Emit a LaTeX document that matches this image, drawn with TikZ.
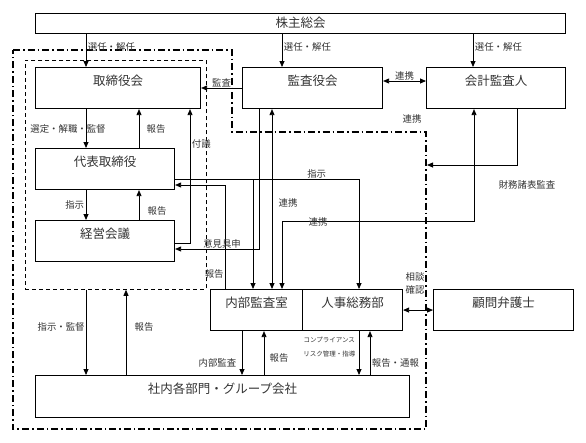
\documentclass[tikz,border=0pt]{standalone}
\usepackage{fontspec}
\setmainfont{Noto Sans CJK JP}
\usetikzlibrary{arrows.meta}
\begin{document}
\begin{tikzpicture}[x=1pt,y=-1pt,font=\fontsize{9.4}{10}\selectfont,text=black!80]
        \tikzstyle{box}=[draw,line width=1.1pt,anchor=north west,inner xsep=0pt,inner ysep=6pt,text height=12pt,text depth=17pt,font=\fontsize{12.5}{13}\selectfont]
        \tikzstyle{arr}=[line width=0.8pt,-{Triangle[length=6pt,width=5pt]}]
        \tikzstyle{both}=[line width=0.8pt,{Triangle[length=6pt,width=5pt]}-{Triangle[length=6pt,width=5pt]}]
        \tikzstyle{lbl}=[inner sep=1.5pt]
        \useasboundingbox (0,0) rectangle (586,442);
        \draw[line width=1.6pt,dash pattern=on 7pt off 3pt on 1.5pt off 3pt]
            (13,50) -- (232,50) -- (232,132) -- (426,132) -- (426,429) -- (13,429) -- cycle;
        \node[draw,line width=0.8pt,dash pattern=on 4pt off 3pt,anchor=north west,
            minimum width=181pt,minimum height=229pt,inner sep=0pt] (grp) at (25,60) {};
        \node[box,minimum width=530pt,text height=10pt,text depth=2pt,inner ysep=4pt] (kabu) at (35,13) {株主総会};
        \node[box,minimum width=165pt] (tori) at (35,67) {取締役会};
        \node[box,minimum width=140pt] (kansa) at (242,67) {監査役会};
        \node[box,minimum width=139pt] (kaikei) at (426,67) {会計監査人};
        \node[box,minimum width=139pt] (daihyo) at (35,148) {代表取締役};
        \node[box,minimum width=139pt] (keiei) at (35,220) {経営会議};
        \node[box,minimum width=92pt] (naibu) at (210,289) {内部監査室};
        \node[box,minimum width=100pt] (jinji) at (302,289) {人事総務部};
        \node[box,minimum width=140pt] (komon) at (433,289) {顧問弁護士};
        \node[box,minimum width=374pt,text depth=18pt] (shanai) at (35,375) {社内各部門・グループ会社};
        \coordinate (shiji) at (253,179);
        \coordinate (zaimu) at (427,165);
        \draw[arr] (86,0 |- kabu.south) -- (86,0 |- tori.north) node[pos=0.38,right,lbl] {選任・解任};
        \draw[arr] (282,0 |- kabu.south) -- (282,0 |- kansa.north) node[pos=0.38,right,lbl] {選任・解任};
        \draw[arr] (473,0 |- kabu.south) -- (473,0 |- kaikei.north) node[pos=0.38,right,lbl] {選任・解任};
        \draw[arr] (kansa.west |- 0,88) -- (tori.east |- 0,88) node[midway,above,inner sep=0.5pt] {監査};
        \draw[both] (kansa.east |- 0,81) -- (kaikei.west |- 0,81) node[midway,above,inner sep=0pt] {連携};
        \node (renkei) at (412,119) {連携};
        \draw[arr] (86,0 |- tori.south) -- (86,0 |- daihyo.north) node[midway,xshift=-18pt] {選定・解職・監督};
        \draw[arr] (139,0 |- daihyo.north) -- (139,0 |- tori.south) node[midway,right,xshift=4pt] {報告};
        \draw[arr] (keiei.east |- 0,243) -| (190,0 |- tori.south) node[pos=0.87,right,lbl] {付議};
        \draw[arr] (86,0 |- daihyo.south) -- (86,0 |- keiei.north) node[midway,left,lbl] {指示};
        \draw[arr] (139,0 |- keiei.north) -- (139,0 |- daihyo.south) node[pos=0.3,right,xshift=5pt] {報告};
        \draw[arr] (daihyo.east |- shiji) -| (359,0 |- jinji.north) node[pos=0.385,above,inner sep=0.5pt] {指示};
        \draw[arr] (shiji) -- (shiji |- naibu.north);
        \draw[arr] (225,0 |- naibu.north) |- (daihyo.east |- 0,185) node[pos=0.07,left,inner sep=1pt] {報告};
        \draw[arr] (259,0 |- kansa.south) |- (keiei.east |- 0,249) node[pos=0.72,above,inner sep=0.5pt] {意見具申};
        \draw[both] (272,0 |- kansa.south) -- (272,0 |- naibu.north) node[pos=0.52,right,xshift=3pt] {連携};
        \draw[both] (282,0 |- naibu.north) |- (474,221) node[pos=0.594,yshift=-1pt] {連携} -- (474,0 |- kaikei.south);
        \draw[arr] (517,0 |- kaikei.south) |- (zaimu) node[pos=0.5,xshift=10pt,yshift=-20pt] {財務諸表監査};
        \draw[arr] (86,0 |- grp.south) -- (86,0 |- shanai.north) node[pos=0.44,left,inner sep=1pt] {指示・監督};
        \draw[arr] (126,0 |- shanai.north) -- (126,0 |- grp.south) node[pos=0.56,right,xshift=5pt] {報告};
        \draw[arr] (242,0 |- naibu.south) -- (242,0 |- shanai.north) node[pos=0.73,left,xshift=-2pt] {内部監査};
        \draw[arr] (264,0 |- shanai.north) -- (264,0 |- naibu.south) node[pos=0.39,right,xshift=2pt] {報告};
        \draw[arr] (359,0 |- jinji.south) -- (359,0 |- shanai.north) node[pos=0.36,left,align=center,font=\fontsize{6.5}{14}\selectfont] {コンプライアンス\\リスク管理・指導};
        \draw[arr] (370,0 |- shanai.north) -- (370,0 |- jinji.south) node[pos=0.27,right,lbl] {報告・通報};
        \draw[both] (jinji.east) -- (komon.west) node[midway,above,yshift=12pt,xshift=-3pt,align=center,font=\fontsize{9.4}{13}\selectfont] {相談\\確認};
\end{tikzpicture}
\end{document}
